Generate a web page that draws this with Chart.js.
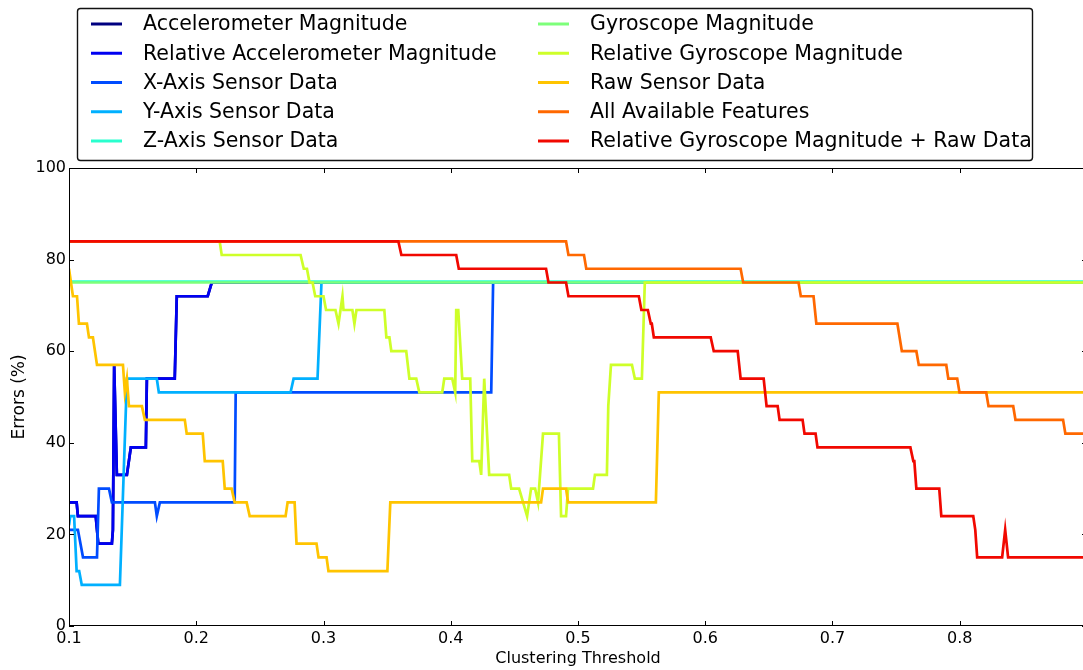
<!DOCTYPE html>
<html lang="en">
<head>
  <meta charset="UTF-8">
  <title>Errors vs Clustering Threshold</title>
  <script src="https://cdn.jsdelivr.net/npm/chart.js"></script>
  <style>
    html, body {
      margin: 0;
      padding: 0;
      background: #fff;
      overflow: hidden;
    }
    #chart {
      display: block;
    }
  </style>
</head>
<body>
  <canvas id="chart" width="1090" height="670"></canvas>

  <script>
    // series as [threshold, error %] pairs
    const accMag = [[0.1,27],[0.106,27],[0.107,24],[0.121,24],[0.123,18],[0.1337,18],[0.1345,21],[0.1355,57],[0.1376,33],[0.1455,33],[0.1486,39],[0.1604,39],[0.1612,54],[0.1831,54],[0.1847,72],[0.209,72],[0.2122,75],[0.9,75]];
    const relAccMag = [[0.1,27],[0.106,27],[0.107,24],[0.121,24],[0.123,18],[0.1337,18],[0.1345,21],[0.1355,57],[0.1376,33],[0.1455,33],[0.1486,39],[0.1604,39],[0.1612,54],[0.1831,54],[0.1847,72],[0.209,72],[0.2122,75],[0.9,75]];
    const xAxisData = [[0.1,21],[0.107,21],[0.111,15],[0.122,15],[0.1235,30],[0.1314,30],[0.1337,27],[0.1675,27],[0.169,24],[0.1714,27],[0.2302,27],[0.231,51],[0.4318,51],[0.4333,75],[0.9,75]];
    const yAxisData = [[0.1,22],[0.101,24],[0.104,24],[0.106,12],[0.108,12],[0.110,9],[0.140,9],[0.1455,54],[0.169,54],[0.1706,51],[0.2741,51],[0.2765,54],[0.2953,54],[0.2984,75],[0.9,75]];
    const zAxisData = [[0.1,75.2],[0.9,75.2]];
    const gyroMag = [[0.1,75],[0.9,75]];
    const relGyroMag = [[0.1,84],[0.2184,84],[0.22,81],[0.282,81],[0.2845,78],[0.287,78],[0.289,75],[0.2914,75],[0.2935,72],[0.300,72],[0.302,69],[0.3094,69],[0.3118,66],[0.3149,72],[0.3157,69],[0.3227,69],[0.3243,66],[0.3259,69],[0.3478,69],[0.3494,63],[0.3518,63],[0.3533,60],[0.365,60],[0.3675,54],[0.3729,54],[0.3753,51],[0.3933,51],[0.3949,54],[0.4012,54],[0.4035,51],[0.4043,69],[0.4059,69],[0.409,54],[0.4153,54],[0.4169,36],[0.4224,36],[0.4239,33],[0.4263,54],[0.4302,33],[0.4459,33],[0.4475,30],[0.4537,30],[0.46,24],[0.4631,30],[0.4663,30],[0.4686,27],[0.4725,42],[0.485,42],[0.4867,24],[0.4906,24],[0.4922,30],[0.5118,30],[0.5133,33],[0.5227,33],[0.5238,48],[0.5259,57],[0.5424,57],[0.5447,54],[0.5502,54],[0.5525,75],[0.9,75]];
    const rawSensor = [[0.1,78],[0.1031,72],[0.1063,72],[0.1078,66],[0.1141,66],[0.1157,63],[0.1188,63],[0.122,57],[0.1424,57],[0.1439,51],[0.1455,54],[0.1471,48],[0.1573,48],[0.1596,45],[0.191,45],[0.1925,42],[0.2051,42],[0.2067,36],[0.2208,36],[0.2224,30],[0.2278,30],[0.2302,27],[0.2396,27],[0.242,24],[0.2702,24],[0.2718,27],[0.2773,27],[0.2788,18],[0.2945,18],[0.2961,15],[0.3024,15],[0.3039,12],[0.3502,12],[0.3525,27],[0.471,27],[0.4725,30],[0.4906,30],[0.4922,27],[0.5612,27],[0.5635,51],[0.9,51]];
    const allFeatures = [[0.1,84],[0.4906,84],[0.4925,81],[0.5047,81],[0.5065,78],[0.6278,78],[0.6298,75],[0.6733,75],[0.6751,72],[0.6851,72],[0.6873,66],[0.751,66],[0.7545,60],[0.7659,60],[0.7678,57],[0.7894,57],[0.791,54],[0.798,54],[0.7998,51],[0.8208,51],[0.8226,48],[0.842,48],[0.8438,45],[0.8812,45],[0.883,42],[0.9,42]];
    const relGyroRaw = [[0.1,84],[0.3588,84],[0.3612,81],[0.4043,81],[0.4063,78],[0.4749,78],[0.4768,75],[0.4906,75],[0.4925,72],[0.5478,72],[0.5498,69],[0.5549,69],[0.5572,66],[0.558,66],[0.5596,63],[0.6043,63],[0.6067,60],[0.6255,60],[0.6278,54],[0.6459,54],[0.6482,48],[0.6569,48],[0.6584,45],[0.6765,45],[0.678,42],[0.6867,42],[0.6882,39],[0.7612,39],[0.7635,36],[0.7643,36],[0.7659,30],[0.7839,30],[0.7855,24],[0.8106,24],[0.8122,21],[0.8137,15],[0.8333,15],[0.8357,21],[0.838,15],[0.9,15]];

    const labels = [
      'Accelerometer Magnitude',
      'Relative Accelerometer Magnitude',
      'X-Axis Sensor Data',
      'Y-Axis Sensor Data',
      'Z-Axis Sensor Data',
      'Gyroscope Magnitude',
      'Relative Gyroscope Magnitude',
      'Raw Sensor Data',
      'All Available Features',
      'Relative Gyroscope Magnitude + Raw Data'
    ];
    const series = [accMag, relAccMag, xAxisData, yAxisData, zAxisData, gyroMag, relGyroMag, rawSensor, allFeatures, relGyroRaw];
    const colors = ['#000080', '#0000f1', '#004cff', '#00b0ff', '#29ffce', '#7dff7a', '#ceff29', '#ffc400', '#ff6800', '#f10800'];
    const yTicks = [0, 20, 40, 60, 80, 100];

    Chart.defaults.font.family = '"DejaVu Sans", sans-serif';
    Chart.defaults.color = '#000';

    // box + inward tick marks like the original plot
    const frame = {
      id: 'frame',
      afterDatasetsDraw(chart) {
        const { ctx, chartArea: a, scales: { x, y } } = chart;
        ctx.save();
        ctx.strokeStyle = '#000';
        ctx.lineWidth = 1;
        ctx.strokeRect(a.left + 0.5, a.top + 0.5, a.right - a.left - 1, a.bottom - a.top - 1);
        ctx.beginPath();
        y.ticks.forEach(t => {
          const py = Math.round(y.getPixelForValue(t.value)) + 0.5;
          ctx.moveTo(a.left, py); ctx.lineTo(a.left + 5, py);
          ctx.moveTo(a.right, py); ctx.lineTo(a.right - 5, py);
        });
        x.ticks.forEach(t => {
          const px = Math.round(x.getPixelForValue(t.value)) + 0.5;
          ctx.moveTo(px, a.top); ctx.lineTo(px, a.top + 5);
          ctx.moveTo(px, a.bottom); ctx.lineTo(px, a.bottom - 5);
        });
        ctx.stroke();
        ctx.restore();
      }
    };

    // two-column legend box above the axes
    const legendBox = {
      id: 'legendBox',
      afterDraw(chart) {
        const ctx = chart.ctx;
        ctx.save();
        ctx.fillStyle = '#fff';
        ctx.strokeStyle = '#111';
        ctx.lineWidth = 1.4;
        ctx.beginPath();
        if (ctx.roundRect) ctx.roundRect(77.5, 8.5, 955, 152, 3);
        else ctx.rect(77.5, 8.5, 955, 152);
        ctx.fill();
        ctx.stroke();
        ctx.font = '20.5px "DejaVu Sans"';
        ctx.textBaseline = 'middle';
        chart.data.datasets.forEach((ds, i) => {
          const col = Math.floor(i / 5), row = i % 5;
          const lx = col ? 538 : 91;
          const ly = 24 + row * 29.25;
          ctx.strokeStyle = ds.borderColor;
          ctx.lineWidth = 3;
          ctx.beginPath();
          ctx.moveTo(lx, ly);
          ctx.lineTo(lx + 31, ly);
          ctx.stroke();
          ctx.fillStyle = '#000';
          ctx.fillText(ds.label, lx + 52, ly + 1);
        });
        ctx.restore();
      }
    };

    new Chart(document.getElementById('chart'), {
      type: 'line',
      data: {
        datasets: series.map((s, i) => ({
          label: labels[i],
          data: s.map(p => ({ x: p[0], y: p[1] })),
          borderColor: colors[i],
          backgroundColor: colors[i],
          borderWidth: 2.7,
          pointRadius: 0,
          tension: 0,
          fill: false,
          order: series.length - i
        }))
      },
      options: {
        responsive: false,
        animation: false,
        layout: { padding: { top: 168, right: 3, bottom: 0, left: 0 } },
        plugins: {
          legend: { display: false },
          tooltip: { enabled: false }
        },
        scales: {
          x: {
            type: 'linear',
            min: 0.1,
            max: 0.9,
            grid: { display: false, drawTicks: false },
            border: { display: false },
            ticks: { stepSize: 0.1, padding: 3, font: { size: 16 }, maxRotation: 0 },
            afterBuildTicks: s => { s.ticks = s.ticks.filter(t => t.value < 0.85); },
            afterFit: s => { s.height = 44; },
            title: { display: true, text: 'Clustering Threshold', font: { size: 16 }, padding: { top: 0, bottom: 2 } }
          },
          y: {
            min: 0,
            max: 100,
            grid: { display: false, drawTicks: false },
            border: { display: false },
            ticks: { stepSize: 20, padding: 3, font: { size: 16 } },
            afterBuildTicks: s => { s.ticks = yTicks.map(v => ({ value: v })); },
            afterFit: s => { s.width = 69; },
            title: { display: true, text: 'Errors (%)', font: { size: 17 }, padding: { top: 9, bottom: 0 } }
          }
        }
      },
      plugins: [frame, legendBox]
    });
  </script>
</body>
</html>
